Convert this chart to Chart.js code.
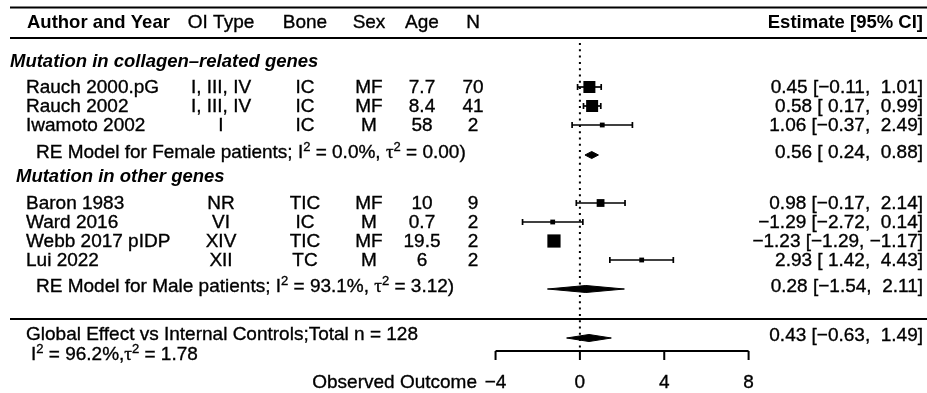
<!DOCTYPE html>
<html>
<head>
<meta charset="utf-8">
<script src="https://cdn.jsdelivr.net/npm/chart.js"></script>
<style>
  html, body { margin: 0; padding: 0; background: #fff; }
  #forest { display: block; }
</style>
</head>
<body>
<canvas id="forest" width="927" height="393"></canvas>
<script>
// Individual studies
const studies = ['Rauch 2000.pG', 'Rauch 2002', 'Iwamoto 2002', 'Baron 1983', 'Ward 2016', 'Webb 2017 pIDP', 'Lui 2022'];
const oiTypes = ['I, III, IV', 'I, III, IV', 'I', 'NR', 'VI', 'XIV', 'XII'];
const bones = ['IC', 'IC', 'IC', 'TIC', 'IC', 'TIC', 'TC'];
const sexes = ['MF', 'MF', 'M', 'MF', 'M', 'MF', 'M'];
const ages = ['7.7', '8.4', '58', '10', '0.7', '19.5', '6'];
const sampleSizes = [70, 41, 2, 9, 2, 2, 2];
const estimates = [0.45, 0.58, 1.06, 0.98, -1.29, -1.23, 2.93];
const ciLower = [-0.11, 0.17, -0.37, -0.17, -2.72, -1.29, 1.42];
const ciUpper = [1.01, 0.99, 2.49, 2.14, 0.14, -1.17, 4.43];
const weights = [20, 20, 8, 13, 8, 22, 8];

// Random-effects summaries
const poolNames = ['Female', 'Male', 'Global'];
const poolEstimates = [0.56, 0.28, 0.43];
const poolLower = [0.24, -1.54, -0.63];
const poolUpper = [0.88, 2.11, 1.49];
const poolI2 = ['0.0', '93.1', '96.2'];
const poolTau2 = ['0.00', '3.12', '1.78'];

const axisTicks = [-4, 0, 4, 8];
const groupTitles = ['Mutation in collagen\u2013related genes', 'Mutation in other genes'];

// Layout: y scale runs in pixel rows, x scale in effect units
const studyRows = [87, 106, 125, 203, 222, 241, 260];
const poolRows = [155, 289, 338];
const SANS = '"Liberation Sans", Arial, Helvetica, sans-serif';
const FONT = `19px ${SANS}`;
const X_MIN = -27.5, X_MAX = 16.46;

const fmt = v => (v < 0 ? '\u2212' : '') + Math.abs(v).toFixed(2);
const pad = v => (v < 0 ? '' : ' ') + fmt(v);
const ciText = (e, l, u) => `${fmt(e)} [${pad(l)}, ${pad(u)}]`;
const totalN = sampleSizes.reduce((a, b) => a + b, 0);

// datasets: squares first so they sit on top of the whiskers
const datasets = [];
datasets.push({
    type: 'scatter',
    data: estimates.map((e, i) => ({ x: e, y: studyRows[i] })),
    pointStyle: 'rect',
    pointRadius: weights.map(w => w * 0.6 / Math.SQRT2),
    backgroundColor: '#000',
    borderWidth: 0
});
estimates.forEach((e, i) => {
    datasets.push({
        type: 'line',
        data: [{ x: ciLower[i], y: studyRows[i] }, { x: ciUpper[i], y: studyRows[i] }],
        borderColor: '#000',
        borderWidth: 1.7,
        pointStyle: 'line',
        pointRotation: 90,
        pointRadius: 3,
        pointBorderWidth: 1.7,
        pointBorderColor: '#000'
    });
});
poolEstimates.forEach((e, i) => {
    const y = poolRows[i];
    datasets.push({
        type: 'line',
        data: [
            { x: poolLower[i], y: y },
            { x: e, y: y - 3.5 },
            { x: poolUpper[i], y: y },
            { x: e, y: y + 3.5 },
            { x: poolLower[i], y: y }
        ],
        borderColor: '#000',
        borderWidth: 1,
        backgroundColor: '#000',
        fill: 'shape',
        pointRadius: 0,
        tension: 0
    });
});
// reference line at zero
datasets.push({
    type: 'line',
    data: [{ x: 0, y: 43 }, { x: 0, y: 348 }],
    borderColor: '#000',
    borderWidth: 2,
    borderDash: [2, 4.3],
    pointRadius: 0
});

// filled text with a hairline stroke so it reads a little heavier
function put(ctx, t, x, y) {
    ctx.fillText(t, x, y);
    ctx.strokeText(t, x, y);
}

// text with superscripts and a greek tau
function drawRich(ctx, parts, x, y) {
    let cx = x;
    parts.forEach(([t, kind]) => {
        if (kind === 's') ctx.font = `13px ${SANS}`;
        else if (kind === 'g') ctx.font = '19px "Liberation Serif", serif';
        else ctx.font = FONT;
        put(ctx, t, cx, kind === 's' ? y - 7 : y);
        cx += ctx.measureText(t).width;
    });
}

const forestText = {
    id: 'forestText',
    afterDraw(chart) {
        const ctx = chart.ctx;
        const xs = chart.scales.x, ys = chart.scales.y;
        const W = chart.width;
        ctx.save();
        ctx.fillStyle = '#000';
        ctx.strokeStyle = '#000';

        // rules
        ctx.lineWidth = 2;
        [7.5, 38, 319].forEach(y => {
            ctx.beginPath();
            ctx.moveTo(10, y);
            ctx.lineTo(W, y);
            ctx.stroke();
        });

        // x axis
        const axY = 351;
        ctx.beginPath();
        ctx.moveTo(xs.getPixelForValue(axisTicks[0]), axY);
        ctx.lineTo(xs.getPixelForValue(axisTicks[axisTicks.length - 1]), axY);
        axisTicks.forEach(t => {
            const px = xs.getPixelForValue(t);
            ctx.moveTo(px, axY);
            ctx.lineTo(px, axY + 9);
        });
        ctx.stroke();

        ctx.lineWidth = 0.35;
        ctx.font = FONT;
        ctx.textAlign = 'center';
        axisTicks.forEach(t => {
            put(ctx, t < 0 ? '\u2212' + Math.abs(t) : String(t), xs.getPixelForValue(t), 388);
        });
        ctx.textAlign = 'right';
        put(ctx, 'Observed Outcome', 477, 388);

        // header
        ctx.font = `bold 18.5px ${SANS}`;
        ctx.textAlign = 'left';
        ctx.fillText('Author and Year', 27, 28);
        ctx.textAlign = 'right';
        ctx.fillText('Estimate [95% CI]', 923, 28);
        ctx.font = FONT;
        ctx.textAlign = 'center';
        const cols = [221, 305, 369, 422, 473];
        ['OI Type', 'Bone', 'Sex', 'Age', 'N'].forEach((h, i) => put(ctx, h, cols[i], 28));

        // group titles
        ctx.font = `italic bold 18.5px ${SANS}`;
        ctx.textAlign = 'left';
        ctx.fillText(groupTitles[0], 10, 67);
        ctx.fillText(groupTitles[1], 16, 182);

        // study rows
        ctx.font = FONT;
        studies.forEach((s, i) => {
            const y = ys.getPixelForValue(studyRows[i]) + 5.5;
            ctx.textAlign = 'left';
            put(ctx, s, 26, y);
            ctx.textAlign = 'center';
            [oiTypes[i], bones[i], sexes[i], ages[i], String(sampleSizes[i])]
                .forEach((v, k) => put(ctx, v, cols[k], y));
            ctx.textAlign = 'right';
            put(ctx, ciText(estimates[i], ciLower[i], ciUpper[i]), 923, y);
        });

        // summaries
        poolEstimates.forEach((e, i) => {
            const y = ys.getPixelForValue(poolRows[i]) + 3;
            ctx.font = FONT;
            ctx.textAlign = 'right';
            put(ctx, ciText(e, poolLower[i], poolUpper[i]), 923, y);
        });
        ctx.textAlign = 'left';
        [0, 1].forEach(i => {
            const y = ys.getPixelForValue(poolRows[i]) + 3;
            drawRich(ctx, [
                [`RE Model for ${poolNames[i]} patients; I`, 'n'], ['2', 's'],
                [` = ${poolI2[i]}%, `, 'n'], ['\u03c4', 'g'], ['2', 's'],
                [` = ${poolTau2[i]})`, 'n']
            ], 36, y);
        });
        ctx.font = FONT;
        put(ctx, `Global Effect vs Internal Controls;Total n = ${totalN}`, 26, 340);
        drawRich(ctx, [
            ['I', 'n'], ['2', 's'], [` = ${poolI2[2]}%,`, 'n'], ['\u03c4', 'g'], ['2', 's'],
            [` = ${poolTau2[2]}`, 'n']
        ], 31, 360);

        ctx.restore();
    }
};

new Chart(document.getElementById('forest'), {
    type: 'scatter',
    data: { datasets: datasets },
    options: {
        responsive: false,
        animation: false,
        events: [],
        layout: { padding: 0, autoPadding: false },
        plugins: { legend: { display: false }, tooltip: { enabled: false } },
        scales: {
            x: { type: 'linear', min: X_MIN, max: X_MAX, display: false },
            y: { type: 'linear', min: 0, max: 393, reverse: true, display: false }
        }
    },
    plugins: [forestText]
});
</script>
</body>
</html>
